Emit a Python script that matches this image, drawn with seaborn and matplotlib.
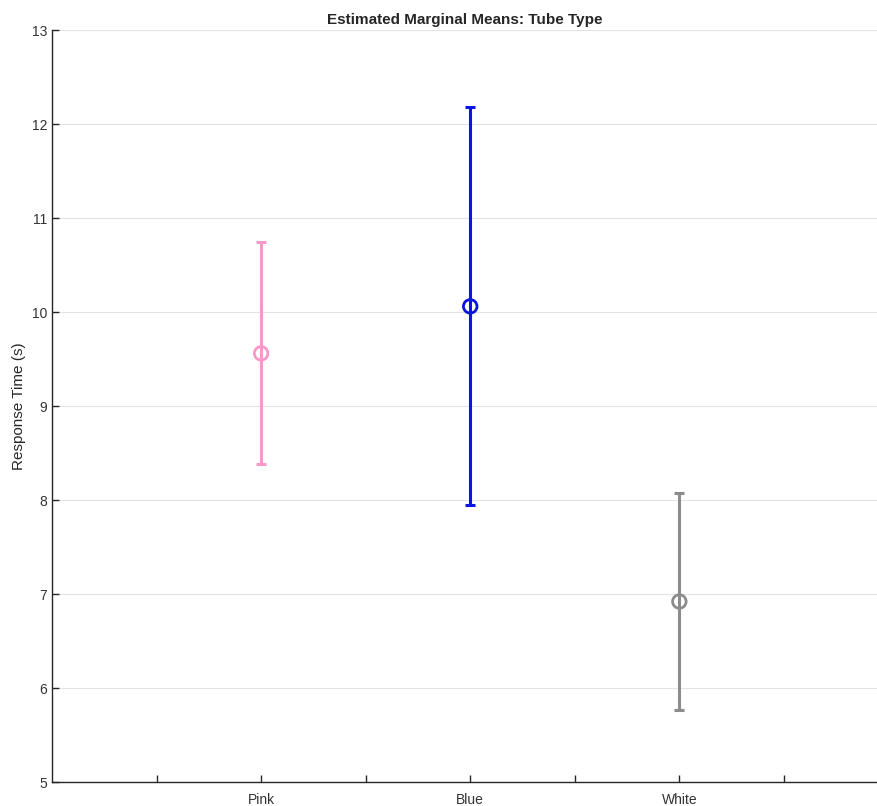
import numpy as np
import pandas as pd
import seaborn as sns
import matplotlib
matplotlib.use("Agg")
import matplotlib.pyplot as plt

# estimated marginal means with confidence limits
tube_type = ["Pink", "Blue", "White"]
mean_rt = [9.56, 10.06, 6.92]
lower_ci = [8.38, 7.95, 5.77]
upper_ci = [10.75, 12.18, 8.07]
colors = ["#F59AC8", "#0A14E6", "#8C8C8C"]

df = pd.DataFrame({"tube": tube_type, "mean": mean_rt, "lo": lower_ci, "hi": upper_ci})
df["x"] = np.arange(1, len(df) + 1)

sns.set_theme(style="white")
plt.rcParams["font.family"] = ["Liberation Sans", "DejaVu Sans"]

fig = plt.figure(figsize=(8.78, 8.06), dpi=100)
ax = fig.add_axes([52 / 878, 24 / 806, 1 - 52 / 878, 752 / 806])

ax.yaxis.grid(True, color="#e3e3e3", linewidth=0.8)
ax.set_axisbelow(True)

for i, row in df.iterrows():
    ax.errorbar(row["x"], row["mean"],
                yerr=[[row["mean"] - row["lo"]], [row["hi"] - row["mean"]]],
                color=colors[i], linewidth=2.2, capsize=3.5, capthick=2.2, fmt="none", zorder=3)

sns.scatterplot(data=df, x="x", y="mean", hue="tube", palette=colors, s=95,
                marker="o", linewidth=2, legend=False, ax=ax, zorder=4)
# hollow circles
coll = ax.collections[-1]
coll.set_facecolor("none")
coll.set_edgecolors(colors)

ax.set_xlim(0, 3.95)
ax.set_ylim(5, 13)
ax.set_yticks(np.arange(5, 14, 1))
ticks = [0.5, 1, 1.5, 2, 2.5, 3, 3.5]
ax.set_xticks(ticks)
ax.set_xticklabels(["", "Pink", "", "Blue", "", "White", ""])

ax.tick_params(axis="both", direction="in", length=5, width=1, color="#262626",
               labelsize=10, labelcolor="#333333", bottom=True, left=True)
ax.tick_params(axis="x", pad=8)
for side in ["top", "right"]:
    ax.spines[side].set_visible(False)
for side in ["left", "bottom"]:
    ax.spines[side].set_color("#262626")
    ax.spines[side].set_linewidth(1)

ax.set_xlabel("")
ax.set_ylabel("Response Time (s)", fontsize=11, color="#262626")
ax.set_title("Estimated Marginal Means: Tube Type", fontsize=11, fontweight="bold", pad=4)

fig.savefig("out.png", dpi=100)
